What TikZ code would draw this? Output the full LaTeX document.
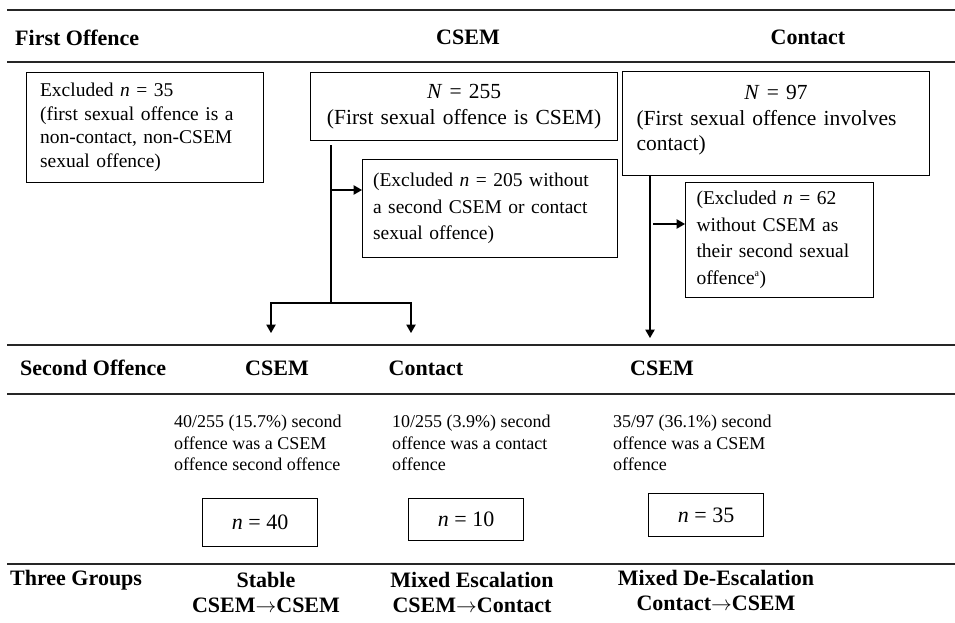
\documentclass[tikz,border=0pt]{standalone}
\usepackage{fontspec}
\setmainfont{Liberation Serif}
\usetikzlibrary{arrows.meta}
\begin{document}
\begin{tikzpicture}[x=1pt,y=-1pt,
  rule/.style={line width=1.3pt, draw=black!85},
  hdr/.style={font=\fontsize{22}{25}\selectfont\bfseries, inner sep=0pt},
  grp/.style={hdr, align=center},
  box/.style={draw, line width=1.1pt, inner sep=0pt, anchor=north west, font=\fontsize{19.5}{23.5}\selectfont},
  bigbox/.style={box, font=\fontsize{21.5}{25.5}\selectfont},
  widebox/.style={box, font=\fontsize{19.5}{26.5}\selectfont},
  note/.style={inner sep=0pt, anchor=north west, align=left, font=\fontsize{18}{21.5}\selectfont},
  nbox/.style={draw, line width=1.1pt, anchor=north west, inner sep=0pt, font=\fontsize{22}{24}\selectfont},
  arr/.style={line width=1.1pt, -{Triangle[length=8.5pt,width=9.5pt]}},
  ln/.style={line width=1.1pt}]
\useasboundingbox (0,0) rectangle (955,623);
% rules
\draw[rule] (7,10) -- (955,10);
\draw[rule] (7,62) -- (955,62);
\draw[rule] (7,345) -- (955,345);
\draw[rule] (7,394) -- (955,394);
\draw[rule] (7,564) -- (955,564);
% headers
\node[hdr, anchor=west] (h1) at (15,38) {First Offence};
\node[hdr] (h2) at (468,37) {CSEM};
\node[hdr] (h3) at (808,37) {Contact};
\node[hdr, anchor=west] (h4) at (20,368) {Second Offence};
\node[hdr] (h5) at (277,368) {CSEM};
\node[hdr] (h6) at (426,368) {Contact};
\node[hdr] (h7) at (662,368) {CSEM};
\node[hdr, anchor=west] (h8) at (10,580) {Three Groups};
\node[grp] (g1) at (266,592) {Stable\\CSEM$\mathbf{\rightarrow}$CSEM};
\node[grp] (g2) at (472,592) {Mixed Escalation\\CSEM$\mathbf{\rightarrow}$Contact};
\node[grp] (g3) at (716,590) {Mixed De-Escalation\\Contact$\mathbf{\rightarrow}$CSEM};
% boxes
\node[box, minimum width=237pt, minimum height=110pt, text width=210pt, align=left] (b1) at (26,72)
  {Excluded \textit{n} = 35\\(first sexual offence is a\\non-contact, non-CSEM\\sexual offence)};
\node[bigbox, minimum width=307pt, minimum height=68pt, text width=307pt, align=center] (b2) at (310,72)
  {\textit{N} = 255\\(First sexual offence is CSEM)};
\node[bigbox, minimum width=307pt, minimum height=104pt, text width=279pt] (b3) at (622,71)
  {\centering\textit{N} = 97\par\raggedright(First sexual offence involves\\contact)\par\vskip 6pt\hrule height 0pt width 0pt};
\node[widebox, minimum width=255pt, minimum height=98pt, text width=234pt, align=left] (b4) at (362,159)
  {(Excluded \textit{n} = 205 without\\a second CSEM or contact\\sexual offence)};
\node[widebox, minimum width=188pt, minimum height=115pt, text width=166pt, align=left] (b5) at (685,182)
  {(Excluded \textit{n} = 62\\without CSEM as\\their second sexual\\offence\textsuperscript{\fontsize{10}{10}\selectfont a})};
% notes
\node[note] (t1) at (174,415) {40/255 (15.7\%) second\\offence was a CSEM\\offence second offence};
\node[note] (t2) at (392,415) {10/255 (3.9\%) second\\offence was a contact\\offence};
\node[note] (t3) at (613,415) {35/97 (36.1\%) second\\offence was a CSEM\\offence};
% n boxes
\node[nbox, minimum width=115pt, minimum height=48pt] (n1) at (202,498) {\textit{n} = 40};
\node[nbox, minimum width=115pt, minimum height=42pt] (n2) at (408,498) {\textit{n} = 10};
\node[nbox, minimum width=115pt, minimum height=43pt] (n3) at (648,493) {\textit{n} = 35};
% connectors
\coordinate (c1) at (331,145);
\coordinate (j1) at (331,303);
\coordinate (a1) at (331,190);
\coordinate (d1) at (271,333);
\coordinate (d2) at (411,333);
\draw[ln] (c1) -- (j1);
\draw[arr] (a1) -- (a1 -| b4.west);
\draw[arr] (j1) -| (d1);
\draw[arr] (j1) -| (d2);
\coordinate (c2) at (650,175);
\coordinate (d3) at (650,338);
\coordinate (a2) at (653,224);
\draw[arr] (c2) -- (d3);
\draw[arr] (a2) -- (a2 -| b5.west);
\end{tikzpicture}
\end{document}
